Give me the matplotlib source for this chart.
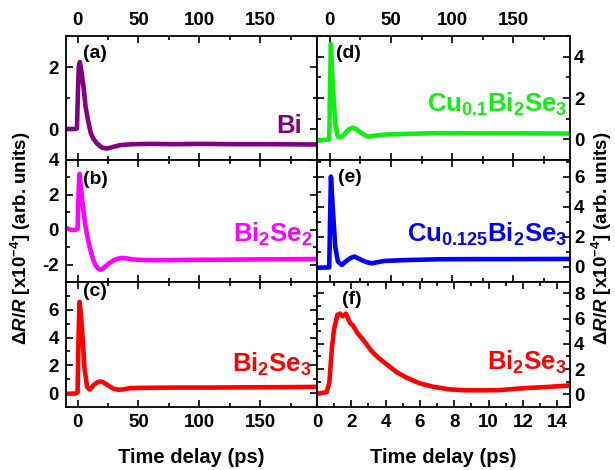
import matplotlib
matplotlib.use('Agg')
import matplotlib.pyplot as plt
from matplotlib.ticker import MultipleLocator, FixedLocator

plt.rcParams['font.family'] = ['Liberation Sans', 'DejaVu Sans']
plt.rcParams['font.weight'] = 'bold'
plt.rcParams['mathtext.fontset'] = 'custom'
plt.rcParams['mathtext.rm'] = 'Liberation Sans:bold'
plt.rcParams['mathtext.it'] = 'Liberation Sans:italic:bold'
plt.rcParams['mathtext.bf'] = 'Liberation Sans:bold'
plt.rcParams['axes.unicode_minus'] = False

# data (time in ps, dR/R in 1e-4)
t_a = [-9.5, -2, -0.5, 0.3, 1.0, 1.9, 3.0, 4.9, 6.6, 8.5, 10.6, 13, 16, 20, 24, 29, 35, 45, 60, 80, 100, 130, 160, 196]
v_a = [0, 0, 0.02, 1.2, 2.0, 2.16, 1.9, 1.35, 0.71, 0.3, -0.1, -0.32, -0.47, -0.6, -0.63, -0.58, -0.52, -0.49, -0.48, -0.49, -0.48, -0.49, -0.49, -0.5]

t_b = [-9.5, -6, -2, 0, 0.8, 1.6, 2.5, 3.8, 5.2, 6.6, 8.5, 10.6, 12.7, 14.8, 16.5, 18.3, 20.5, 23, 26, 29.8, 33, 36.6, 41, 46, 55, 68, 90, 120, 150, 180, 196]
v_b = [0.1, 0.0, -0.02, 0.05, 2.0, 3.2, 2.6, 1.7, 0.9, 0.16, -0.55, -1.18, -1.7, -2.04, -2.2, -2.29, -2.25, -2.1, -1.92, -1.75, -1.66, -1.62, -1.65, -1.71, -1.74, -1.75, -1.73, -1.72, -1.7, -1.69, -1.68]

t_c = [-9.5, -2, 0, 0.8, 1.6, 2.6, 3.8, 5.7, 7.9, 10, 11.5, 13.4, 16, 18.3, 20.5, 23, 26, 29.8, 33.9, 38, 43.4, 55, 80, 110, 140, 170, 196]
v_c = [-0.05, -0.03, 0.05, 4.0, 6.57, 5.8, 4.4, 1.76, 0.43, 0.26, 0.4, 0.6, 0.76, 0.84, 0.8, 0.67, 0.5, 0.31, 0.24, 0.28, 0.36, 0.38, 0.4, 0.4, 0.42, 0.43, 0.45]

t_d = [-10.5, -4, -0.5, 0.3, 0.9, 2.5, 4.4, 6.6, 9.3, 12.6, 15.5, 18.6, 21.5, 24.9, 28, 31.7, 37, 45, 60, 89, 120, 150, 196]
v_d = [-0.06, -0.03, 0.0, 3.0, 4.6, 2.57, 0.76, 0.13, 0.1, 0.3, 0.48, 0.56, 0.5, 0.35, 0.22, 0.13, 0.18, 0.23, 0.26, 0.3, 0.29, 0.29, 0.28]

t_e = [-10.5, -4, -0.5, 0.3, 0.9, 2.5, 4.4, 6.6, 9.8, 13.9, 17, 20.2, 25.7, 30, 34.4, 40, 45, 60, 89, 120, 150, 196]
v_e = [-0.05, -0.04, -0.02, 3.5, 6.0, 3.8, 1.36, 0.36, 0.13, 0.42, 0.6, 0.69, 0.47, 0.32, 0.24, 0.33, 0.4, 0.45, 0.51, 0.52, 0.52, 0.53]

t_f = [0, 0.56, 0.72, 0.86, 0.99, 1.19, 1.34, 1.5, 1.69, 1.93, 2.1, 2.35, 2.6, 2.9, 3.19, 3.58, 4.07, 4.65, 5.23, 6.0, 6.79, 7.76, 8.73, 9.7, 10.7, 11.65, 12.6, 13.6, 14.75]
v_f = [0.05, 0.18, 0.92, 3.55, 5.13, 6.3, 6.4, 6.18, 6.39, 5.66, 5.45, 4.87, 4.47, 3.95, 3.42, 2.9, 2.37, 1.76, 1.32, 0.87, 0.6, 0.39, 0.32, 0.32, 0.34, 0.45, 0.53, 0.6, 0.71]

names = ['Bi', 'Bi$_2$Se$_2$', 'Bi$_2$Se$_3$', 'Cu$_{0.1}$Bi$_2$Se$_3$', 'Cu$_{0.125}$Bi$_2$Se$_3$', 'Bi$_2$Se$_3$']
letters = ['(a)', '(b)', '(c)', '(d)', '(e)', '(f)']
colors = ['#800080', '#ff00ff', '#ff0000', '#11ee11', '#0000ff', '#ff0000']
ylims = [(-1, 3), (-3, 4), (-1, 8), (-1, 5), (-1, 7.1), (-1, 8.9)]
yticks = [[0, 2], [-2, 0, 2, 4], [0, 2, 4, 6], [0, 2, 4], [0, 2, 4, 6], [0, 2, 4, 6, 8]]
ts = [t_a, t_b, t_c, t_d, t_e, t_f]
vs = [v_a, v_b, v_c, v_d, v_e, v_f]

fig = plt.figure(figsize=(6.15, 4.7), dpi=100)
W, H = 615.0, 470.0
rows = [(36, 160), (160, 282), (282, 407)]
cols = [(66, 317), (317, 570)]
name_x = [0.94, 0.984, 0.98, 0.988, 0.988, 0.988]
name_y = [0.22, 0.33, 0.28, 0.39, 0.33, 0.296]
letter_x = [0.066, 0.066, 0.066, 0.077, 0.084, 0.097]
letter_y = [0.86, 0.84, 0.925, 0.86, 0.857, 0.86]

for i in range(6):
    c = i // 3
    r = i % 3
    x0, x1 = cols[c]
    y0, y1 = rows[r]
    ax = fig.add_axes([x0 / W, 1 - y1 / H, (x1 - x0) / W, (y1 - y0) / H])
    ax.plot(ts[i], vs[i], color=colors[i], lw=3.3, solid_joinstyle='round')
    ax.set_ylim(ylims[i])
    ax.yaxis.set_major_locator(FixedLocator(yticks[i]))
    ax.yaxis.set_minor_locator(MultipleLocator(1))
    if i == 5:
        ax.set_xlim(0, 14.75)
        ax.xaxis.set_major_locator(MultipleLocator(2))
        ax.xaxis.set_minor_locator(MultipleLocator(1))
    else:
        if c == 0:
            ax.set_xlim(-9.5, 196.5)
        else:
            ax.set_xlim(-10.5, 196.5)
        ax.xaxis.set_major_locator(FixedLocator([0, 50, 100, 150]))
        ax.xaxis.set_minor_locator(MultipleLocator(25))
    ax.tick_params(which='both', direction='in', top=True, bottom=True, left=True, right=True,
                   width=1.2, labelsize=13.5)
    ax.tick_params(which='major', length=5)
    ax.tick_params(which='minor', length=3)
    ax.tick_params(axis='x', pad=5)
    ax.tick_params(labelbottom=(r == 2), labeltop=(r == 0))
    if c == 0:
        ax.tick_params(axis='y', labelleft=True, labelright=False, pad=5)
    else:
        ax.tick_params(axis='y', labelleft=False, labelright=True, pad=3)
    for s in ax.spines.values():
        s.set_linewidth(1.3)
    ax.text(letter_x[i], letter_y[i], letters[i], transform=ax.transAxes, fontsize=14,
            fontweight='bold', ha='left', va='center')
    ax.text(name_x[i], name_y[i], names[i], transform=ax.transAxes, fontsize=18.5,
            fontweight='bold', color=colors[i], ha='right', va='baseline')
    if r == 2:
        ax.set_xlabel('Time delay (ps)', fontsize=14.5, fontweight='bold', labelpad=12)

ylab = r'$\Delta\mathit{R}/\mathit{R}$ [x10$^{-4}$] (arb. units)'
fig.text(21 / W, 1 - 238 / H, ylab, rotation=90, fontsize=13.5, fontweight='bold', ha='center', va='center')
fig.text(602 / W, 1 - 238 / H, ylab, rotation=90, fontsize=13.5, fontweight='bold', ha='center', va='center')

fig.savefig('out.png', dpi=100)
